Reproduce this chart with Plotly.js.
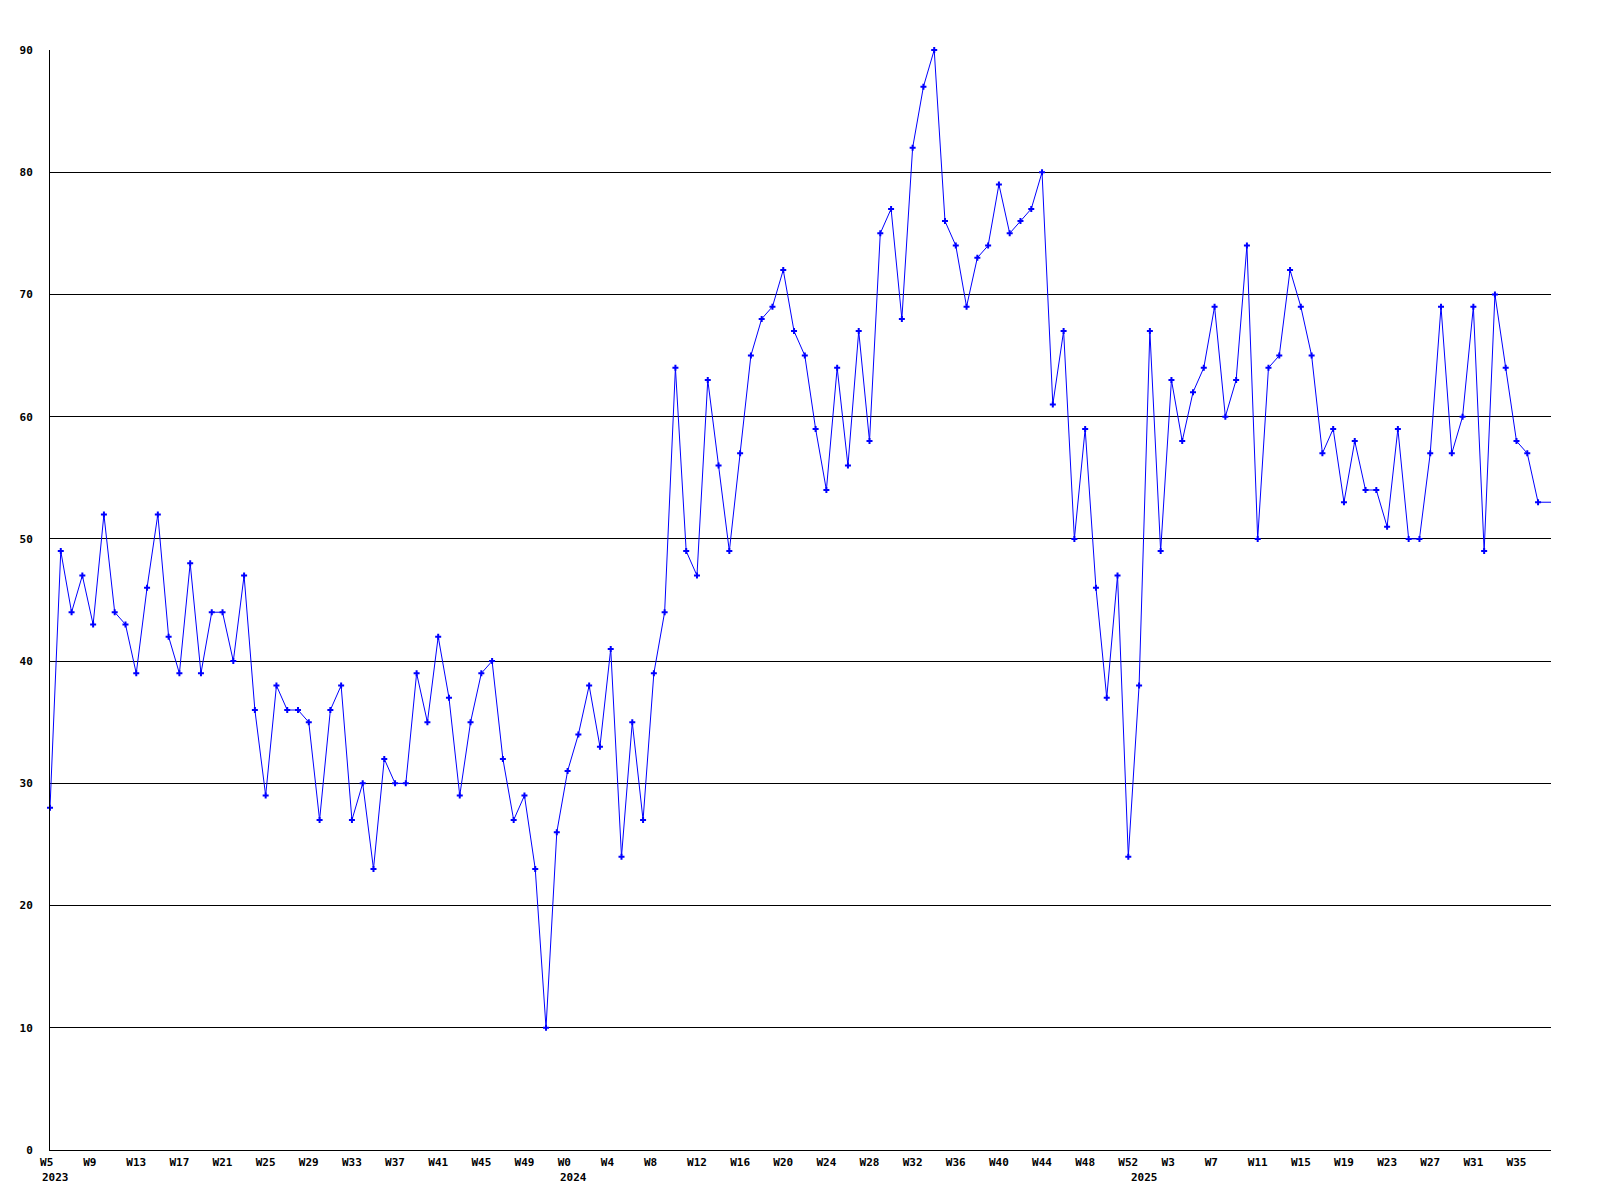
<!DOCTYPE html>
<html>
<head>
<meta charset="utf-8">
<script src="https://cdn.plot.ly/plotly-3.0.1.min.js"></script>
<style>html,body{margin:0;padding:0;background:#fff;}#chart{width:1600px;height:1200px;}</style>
</head>
<body>
<div id="chart"></div>
<script>
// Weekly values, one per week starting at W5 2023
const values = [
  28,49,44,47,43,52,44,43,39,46,52,42,39,48,39,44,44,40,47,36,
  29,38,36,36,35,27,36,38,27,30,23,32,30,30,39,35,42,37,29,35,
  39,40,32,27,29,23,10,26,31,34,38,33,41,24,35,27,39,44,64,49,
  47,63,56,49,57,65,68,69,72,67,65,59,54,64,56,67,58,75,77,68,
  82,87,90,76,74,69,73,74,79,75,76,77,80,61,67,50,59,46,37,47,
  24,38,67,49,63,58,62,64,69,60,63,74,50,64,65,72,69,65,57,59,
  53,58,54,54,51,59,50,50,57,69,57,60,69,49,70,64,58,57,53
];

// x-axis tick labels (every 4th week) and their week positions
const tickPositions = [0,4,8,12,16,20,24,28,32,36,40,44,48,52,56,60,64,68,72,76,80,84,88,92,96,100,104,108,112,116,120,124,128,132,136];
const tickLabels = ['W5','W9','W13','W17','W21','W25','W29','W33','W37','W41','W45','W49',
  'W0','W4','W8','W12','W16','W20','W24','W28','W32','W36','W40','W44','W48','W52',
  'W3','W7','W11','W15','W19','W23','W27','W31','W35'];

// Year labels and the week position where each year starts
const yearLabels = ['2023','2024','2025'];
const yearPositions = [0,48,101];

const yTicks = [0,10,20,30,40,50,60,70,80,90];

const xIdx = values.map((v,i)=>i);
const xEnd = values.length + 0.2;

const font = {family:'"DejaVu Sans Mono", "Liberation Mono", monospace', size:11, color:'#000', weight:'bold'};
const pad = s => s + '\u00a0'.repeat(Math.max(0, 3 - s.length));

const traces = [
  {
    x: xIdx, y: values, type:'scatter', mode:'lines+markers',
    line:{color:'#0000ff', width:1},
    marker:{symbol:'cross', size:5, color:'#0000ff'},
    hoverinfo:'y', showlegend:false, cliponaxis:false
  },
  {
    x: [values.length-1, xEnd], y: [values[values.length-1], values[values.length-1]],
    type:'scatter', mode:'lines', line:{color:'#0000ff', width:1},
    hoverinfo:'skip', showlegend:false
  }
];

const layout = {
  width:1600, height:1200,
  margin:{l:50, r:49, t:50, b:50},
  paper_bgcolor:'#fff', plot_bgcolor:'#fff',
  showlegend:false,
  xaxis:{
    range:[0, xEnd], showgrid:false, zeroline:false,
    showline:true, linecolor:'#000', linewidth:1,
    tickmode:'array', tickvals:tickPositions, ticktext:tickLabels.map(pad),
    ticks:'outside', ticklen:2, tickcolor:'rgba(0,0,0,0)',
    tickfont:font, tickangle:0
  },
  yaxis:{
    range:[0,90], tickmode:'array', tickvals:yTicks, ticktext:yTicks.map(String),
    showgrid:true, gridcolor:'#000', gridwidth:1,
    zeroline:false, showline:true, linecolor:'#000', linewidth:1,
    ticks:'outside', ticklen:14, tickcolor:'rgba(0,0,0,0)',
    tickfont:font
  },
  annotations: yearLabels.map((t,i)=>({
    text:t, x:yearPositions[i], xref:'x', y:0, yref:'paper',
    xanchor:'left', yanchor:'middle', xshift:-10, yshift:-27,
    showarrow:false, font:font
  }))
};

Plotly.newPlot('chart', traces, layout, {staticPlot:true});
</script>
</body>
</html>
